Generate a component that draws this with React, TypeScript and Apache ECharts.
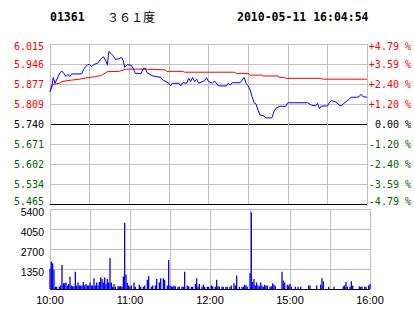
import React, { useEffect, useRef } from 'react';
import * as echarts from 'echarts';

const STOCK_CODE = '01361';
const STOCK_NAME = '３６１度';
const TIMESTAMP = '2010-05-11 16:04:54';

const TIME_LABELS = ['10:00', '11:00', '12:00', '15:00', '16:00'];
const PRICE_LABELS = ['5.465', '5.534', '5.602', '5.671', '5.740', '5.809', '5.877', '5.946', '6.015'];
const PCT_LABELS = ['-4.79 %', '-3.59 %', '-2.40 %', '-1.20 %', '0.00 %', '+1.20 %', '+2.40 %', '+3.59 %', '+4.79 %'];
const VOLUME_LABELS = ['', '1350', '2700', '4050', '5400'];

const PREV_CLOSE = 5.74;
const PRICE_STEP = 0.06875;

// [minute since open, price]
const PRICE_PTS: [number, number][] = [
  [0, 5.851], [1.5, 5.874], [2.5, 5.9], [3.75, 5.88], [7.5, 5.916], [9, 5.922], [10.5, 5.914],
  [12, 5.903], [13.5, 5.911], [15, 5.903], [16.5, 5.912], [24, 5.912], [25.5, 5.928], [27, 5.937],
  [28.5, 5.944], [30, 5.944], [31.5, 5.937], [33, 5.944], [36, 5.949], [39, 5.966], [40.5, 5.971],
  [42, 5.96], [43.5, 5.943], [44.5, 5.989], [46.5, 5.981], [48, 5.974], [49.5, 5.962], [52.5, 5.965],
  [54, 5.969], [55.5, 5.958], [56.5, 5.935], [58.5, 5.944], [61.5, 5.942], [63, 5.931], [64.5, 5.914],
  [69, 5.914], [70.5, 5.93], [72, 5.932], [73.5, 5.916], [78, 5.905], [84, 5.9], [85.5, 5.891],
  [90, 5.88], [91.5, 5.871], [92.5, 5.88], [97.5, 5.88], [99, 5.871], [100.5, 5.882], [103.5, 5.88],
  [105, 5.897], [106.5, 5.886], [108, 5.9], [109.5, 5.886], [111, 5.894], [112.5, 5.88], [117, 5.889],
  [118.5, 5.899], [120, 5.886], [123, 5.88], [124.5, 5.888], [126, 5.88], [127.5, 5.871], [133.5, 5.871],
  [135, 5.88], [136.5, 5.874], [138, 5.882], [144, 5.882], [145.5, 5.891], [147, 5.9], [148.5, 5.88],
  [150, 5.871], [151.5, 5.857], [153, 5.834], [154.5, 5.813], [156, 5.809], [157.5, 5.788], [159, 5.771],
  [162, 5.768], [163.5, 5.761], [168, 5.761], [169.5, 5.782], [171, 5.794], [174, 5.801], [178.5, 5.801],
  [180, 5.813], [195, 5.813], [198, 5.805], [201, 5.802], [202.5, 5.811], [204, 5.793], [205.5, 5.802],
  [210, 5.802], [211.5, 5.813], [213, 5.82], [216, 5.817], [219, 5.805], [220.5, 5.802], [222, 5.809],
  [225, 5.82], [226.5, 5.825], [228, 5.832], [232.5, 5.832], [234, 5.834], [235.5, 5.842], [237, 5.834],
  [240, 5.832],
];

// [minute since open, average price]
const AVG_PTS: [number, number][] = [
  [0, 5.851], [1.5, 5.868], [2.5, 5.877], [7.5, 5.88], [9, 5.886], [16.5, 5.891], [22.5, 5.894],
  [25.5, 5.897], [34.5, 5.903], [39, 5.907], [43.5, 5.92], [52.5, 5.921], [55.5, 5.926], [58, 5.929],
  [78, 5.928], [87, 5.926], [88.5, 5.921], [100.5, 5.921], [102, 5.918], [139.5, 5.918], [141, 5.914],
  [150, 5.914], [151.5, 5.908], [160, 5.908], [161.5, 5.905], [172.5, 5.905], [174, 5.9], [177, 5.9],
  [178.5, 5.897], [205, 5.897], [206.5, 5.894], [240, 5.894],
];

// [minute since open, volume]
const VOLUME_PTS: [number, number][] = [
  [0, 1370], [1, 1855], [2, 1735], [3, 1300], [4, 145], [5, 145], [7, 145], [8, 240], [9, 1615], [10, 385],
  [11, 385], [12, 435], [13, 240], [14, 340], [15, 820], [16, 240], [17, 190], [18, 190], [19, 1157], [20, 240],
  [21, 435], [22, 240], [23, 240], [24, 240], [25, 480], [26, 240], [27, 340], [28, 240], [29, 240], [30, 435],
  [31, 240], [32, 240], [33, 725], [34, 240], [35, 435], [36, 240], [37, 480], [38, 795], [39, 675], [40, 435],
  [41, 770], [42, 340], [43, 675], [44, 435], [45, 2100], [46, 435], [47, 145], [48, 340], [49, 145], [51, 190],
  [52, 190], [53, 190], [54, 145], [55, 840], [56, 4475], [57, 980], [58, 420], [59, 240], [60, 145], [61, 240],
  [63, 435], [64, 145], [67, 290], [68, 145], [70, 145], [71, 240], [73, 625], [74, 870], [76, 145], [77, 240],
  [79, 240], [80, 675], [82, 435], [83, 725], [85, 725], [86, 625], [88, 240], [89, 1950], [90, 240], [91, 190],
  [92, 145], [93, 240], [94, 190], [96, 145], [97, 145], [99, 145], [100, 145], [101, 1157], [103, 240], [104, 190],
  [106, 145], [107, 145], [109, 340], [110, 725], [111, 145], [112, 340], [114, 145], [115, 290], [116, 145], [118, 145],
  [119, 145], [121, 240], [122, 190], [124, 145], [125, 625], [126, 190], [127, 145], [129, 145], [130, 145], [132, 145],
  [133, 145], [135, 145], [136, 240], [138, 385], [139, 240], [140, 915], [142, 145], [144, 145], [145, 145], [146, 290],
  [147, 240], [148, 145], [150, 1060], [151, 5184], [152, 480], [153, 675], [154, 240], [155, 435], [156, 240], [157, 190],
  [158, 435], [159, 240], [160, 145], [161, 290], [162, 240], [163, 240], [165, 145], [166, 190], [167, 385], [168, 290],
  [169, 190], [174, 1157], [175, 580], [176, 435], [178, 290], [179, 240], [180, 340], [181, 145], [184, 145], [186, 145],
  [188, 145], [194, 240], [195, 240], [200, 240], [203, 290], [204, 725], [205, 530], [209, 145], [213, 145], [220, 190],
  [221, 240], [222, 480], [223, 145], [225, 145], [226, 530], [227, 240], [232, 190], [233, 145], [234, 145], [236, 145],
  [237, 145], [239, 240], [240, 340],
];

const RED = '#ff0000';
const GREEN = '#006400';
const BLACK = '#000000';
const GRID_GREY = '#c0c0c0';
const BLUE = '#0000ff';
const MONO = '"DejaVu Sans Mono", monospace';
const SANS = '"Liberation Sans", Arial, sans-serif';

function priceRich(font: string) {
  const base = { fontFamily: font, fontSize: 10 };
  return {
    upT: { ...base, color: RED, padding: [5, 0, 0, 0] },
    up: { ...base, color: RED },
    zero: { ...base, color: BLACK },
    dn: { ...base, color: GREEN },
    dnB: { ...base, color: GREEN, padding: [0, 0, 5, 0] },
  };
}

function priceLabel(labels: string[]) {
  return (v: number) => {
    const i = Math.round(v) + 4;
    const name = i > 4 ? 'up' : i === 4 ? 'zero' : 'dn';
    const edge = i === 8 ? 'T' : i === 0 ? 'B' : '';
    return `{${name}${edge}|${labels[i]}}`;
  };
}

export default function App() {
  const ref = useRef<HTMLDivElement>(null);

  useEffect(() => {
    document.body.style.margin = '0';
    if (!ref.current) return;
    const chart = echarts.init(ref.current, undefined, { renderer: 'svg' });

    const toAxis = (p: number) => (p - PREV_CLOSE) / PRICE_STEP;

    const option: any = {
      animation: false,
      backgroundColor: '#ffffff',
      graphic: [
        {
          type: 'text', x: 50, y: 17,
          style: { text: STOCK_CODE, font: `bold 11.5px ${MONO}`, fill: BLACK, verticalAlign: 'middle' },
        },
        {
          type: 'text', x: 107, y: 16,
          style: { text: STOCK_NAME, font: '12px "Noto Sans CJK SC"', fill: BLACK, verticalAlign: 'middle' },
        },
        {
          type: 'text', x: 237, y: 17,
          style: { text: TIMESTAMP, font: `bold 11.5px ${MONO}`, fill: BLACK, verticalAlign: 'middle' },
        },
      ],
      grid: [
        { left: 50, top: 44, width: 320, height: 160 },
        { left: 50, top: 209, width: 320, height: 80 },
      ],
      xAxis: [
        {
          type: 'value', gridIndex: 0, min: 0, max: 240, interval: 30,
          axisLine: { show: false }, axisTick: { show: false }, axisLabel: { show: false },
          splitLine: { show: true, lineStyle: { color: GRID_GREY, width: 1 } },
        },
        {
          type: 'value', gridIndex: 1, min: 0, max: 240, interval: 30,
          axisLine: { show: false }, axisTick: { show: false },
          axisLabel: {
            show: true, margin: 5, color: BLACK, fontFamily: SANS, fontSize: 11,
            formatter: (v: number) => (v % 60 === 0 ? TIME_LABELS[v / 60] : ''),
          },
          splitLine: { show: true, lineStyle: { color: GRID_GREY, width: 1 } },
        },
      ],
      yAxis: [
        {
          type: 'value', gridIndex: 0, min: -4, max: 4, interval: 1, position: 'left',
          axisLine: { show: false }, axisTick: { show: false },
          axisLabel: {
            margin: 6, formatter: priceLabel(PRICE_LABELS), rich: priceRich(MONO),
            fontFamily: MONO, fontSize: 10,
          },
          splitLine: {
            show: true,
            lineStyle: {
              color: [BLACK, GRID_GREY, GRID_GREY, GRID_GREY, BLACK, GRID_GREY, GRID_GREY, GRID_GREY, GRID_GREY],
              width: 1,
            },
          },
        },
        {
          type: 'value', gridIndex: 0, min: -4, max: 4, interval: 1, position: 'right',
          axisLine: { show: false }, axisTick: { show: false },
          axisLabel: {
            margin: 44, align: 'right', formatter: priceLabel(PCT_LABELS), rich: priceRich(MONO),
            fontFamily: MONO, fontSize: 10,
          },
          splitLine: { show: false },
        },
        {
          type: 'value', gridIndex: 1, min: 0, max: 5400, interval: 1350,
          axisLine: { show: false }, axisTick: { show: false },
          axisLabel: {
            margin: 6, color: BLACK, fontFamily: SANS, fontSize: 10.5,
            formatter: (v: number) => {
              const s = VOLUME_LABELS[Math.round(v / 1350)];
              return s ? `{v|${s}}` : '';
            },
            rich: { v: { fontFamily: SANS, fontSize: 10.5, color: BLACK, padding: [5, 0, 0, 0] } },
          },
          splitLine: {
            show: true,
            lineStyle: { color: [BLACK, GRID_GREY, GRID_GREY, GRID_GREY, GRID_GREY], width: 1 },
          },
        },
      ],
      series: [
        {
          type: 'line', xAxisIndex: 0, yAxisIndex: 0, silent: true,
          data: AVG_PTS.map(([t, p]) => [t, toAxis(p)]),
          showSymbol: false, symbol: 'none',
          lineStyle: { color: RED, width: 1 },
          z: 3,
        },
        {
          type: 'line', xAxisIndex: 0, yAxisIndex: 0, silent: true,
          data: PRICE_PTS.map(([t, p]) => [t, toAxis(p)]),
          showSymbol: false, symbol: 'none',
          lineStyle: { color: BLUE, width: 1 },
          z: 4,
        },
        {
          type: 'bar', xAxisIndex: 1, yAxisIndex: 2, silent: true,
          data: VOLUME_PTS,
          barWidth: 1.3,
          itemStyle: { color: BLUE },
        },
      ],
    };

    chart.setOption(option);
    return () => chart.dispose();
  }, []);

  return <div ref={ref} style={{ width: 414, height: 314 }} />;
}
